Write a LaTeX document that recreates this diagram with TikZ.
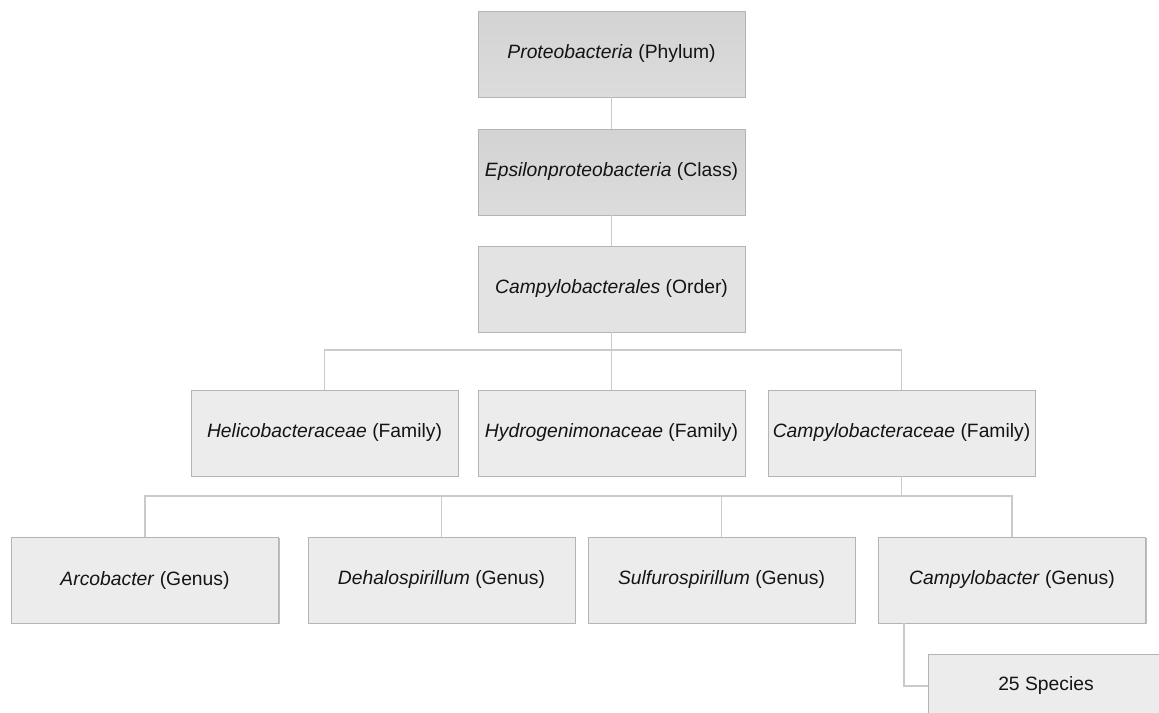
\documentclass[tikz,border=0pt]{standalone}
\usepackage{fontspec}
\setmainfont{Liberation Sans}
\usetikzlibrary{shadows}
\definecolor{darkbox}{HTML}{D3D3D3}
\definecolor{darkboxb}{HTML}{DCDCDC}
\definecolor{midbox}{HTML}{E3E3E3}
\definecolor{lightbox}{HTML}{ECECEC}
\definecolor{boxline}{HTML}{B4B4B4}
\definecolor{connline}{HTML}{CACACA}
\definecolor{txt}{HTML}{141414}
\tikzset{
  taxbox/.style={draw=boxline, line width=0.9pt, rectangle, minimum width=267pt, minimum height=86pt,
     inner sep=0pt, font=\fontsize{19.3}{22}\selectfont, text=txt,
     drop shadow={shadow xshift=1pt, shadow yshift=-1.2pt, opacity=0.25, fill=black}},
  darktax/.style={taxbox, top color=darkbox, bottom color=darkboxb},
  midtax/.style={taxbox, fill=midbox},
  lighttax/.style={taxbox, fill=lightbox},
  conn/.style={draw=connline, line width=1.5pt}
}
\begin{document}
\begin{tikzpicture}[x=1pt,y=-1pt]
\clip (0,0) rectangle (1159,712);
\fill[white] (0,0) rectangle (1159,712);
% nodes
\node[darktax] (phylum) at (611.5,54) {\textit{Proteobacteria} (Phylum)};
\node[darktax] (class) at (611.5,172) {\textit{Epsilonproteobacteria} (Class)};
\node[midtax] (order) at (611.5,289) {\textit{Campylobacterales} (Order)};
\node[lighttax] (helico) at (324.5,433) {\textit{Helicobacteraceae} (Family)};
\node[lighttax] (hydro) at (611.5,433) {\textit{Hydrogenimonaceae} (Family)};
\node[lighttax] (campyfam) at (901.5,433) {\textit{Campylobacteraceae} (Family)};
\node[lighttax] (arco) at (145,580) {\textit{Arcobacter} (Genus)};
\node[lighttax] (dehalo) at (441.5,580) {\textit{Dehalospirillum} (Genus)};
\node[lighttax] (sulfo) at (721.5,580) {\textit{Sulfurospirillum} (Genus)};
\node[lighttax] (campygen) at (1012,580) {\textit{Campylobacter} (Genus)};
\node[lighttax, minimum width=236pt, minimum height=64pt] (species) at (1046,686) {25 Species};
% bus points
\coordinate (bus1) at (611.5,350);
\coordinate (bus2) at (901.5,496);
\coordinate (spc) at (904,686);
% connectors
\draw[conn] (phylum.south) -- (class.north);
\draw[conn] (class.south) -- (order.north);
\draw[conn] (order.south) -- (bus1) -| (helico.north);
\draw[conn] (bus1) -| (campyfam.north);
\draw[conn] (bus1) -- (hydro.north);
\draw[conn] (campyfam.south) -- (bus2) -| (arco.north);
\draw[conn] (bus2) -| (dehalo.north);
\draw[conn] (bus2) -| (sulfo.north);
\draw[conn] (bus2) -| (campygen.north);
\draw[conn] (campygen.south -| spc) -- (spc) -- (species.west |- spc);
\end{tikzpicture}
\end{document}
